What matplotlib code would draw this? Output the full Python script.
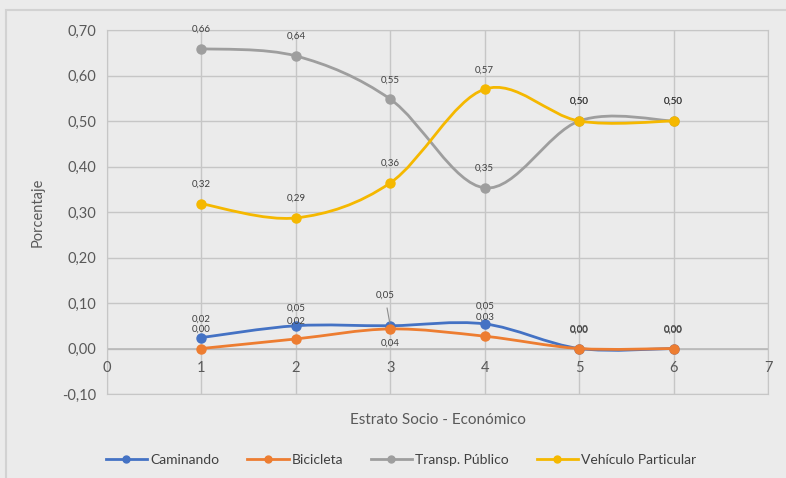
import matplotlib
matplotlib.use("Agg")
import matplotlib.pyplot as plt
from matplotlib.lines import Line2D
from matplotlib.patches import PathPatch, Rectangle
from matplotlib.path import Path

plt.rcParams["font.family"] = ["Lato", "DejaVu Sans"]

estratos = [1, 2, 3, 4, 5, 6]
caminando = [0.024, 0.050, 0.050, 0.054, 0.0, 0.0]
bicicleta = [0.0, 0.021, 0.043, 0.027, 0.0, 0.0]
transp_publico = [0.659, 0.643, 0.548, 0.353, 0.50, 0.50]
vehiculo = [0.318, 0.287, 0.364, 0.570, 0.50, 0.50]

series_names = ["Caminando", "Bicicleta", "Transp. Público", "Vehículo Particular"]
y_ticks = [-0.10, 0.0, 0.10, 0.20, 0.30, 0.40, 0.50, 0.60, 0.70]
x_ticks = [0, 1, 2, 3, 4, 5, 6, 7]

BG = "#ebebeb"
colors = ["#4472c4", "#ed7d31", "#9e9e9e", "#f5b800"]
# vertical label offsets in points (negative = below the marker)
label_dy = [
    [13, 13, 20, 13, 13, 13],
    [14, 13, -10, 14, 14, 14],
    [14, 14, 14, 14, 14, 14],
    [14, 14, 14, 14, 14, 14],
]


def fmt(v):
    return f"{v:.2f}".replace(".", ",")


def smooth_path(xs, ys):
    # Catmull-Rom segments turned into cubic Bezier curves (like Excel smoothing)
    pts = list(zip(xs, ys))
    verts = [pts[0]]
    codes = [Path.MOVETO]
    n = len(pts)
    for i in range(n - 1):
        p0 = pts[max(i - 1, 0)]
        p1 = pts[i]
        p2 = pts[i + 1]
        p3 = pts[min(i + 2, n - 1)]
        c1 = (p1[0] + (p2[0] - p0[0]) / 6, p1[1] + (p2[1] - p0[1]) / 6)
        c2 = (p2[0] - (p3[0] - p1[0]) / 6, p2[1] - (p3[1] - p1[1]) / 6)
        verts += [c1, c2, p2]
        codes += [Path.CURVE4] * 3
    return Path(verts, codes)


fig = plt.figure(figsize=(7.86, 4.78), dpi=100, facecolor=BG)
# outer chart frame
fig.patches.append(Rectangle((6 / 786, -0.1), 1.0, 1.1 - 10 / 478,
                             transform=fig.transFigure, fill=False,
                             edgecolor="#d2d2d2", linewidth=1.5))
ax = fig.add_axes([107 / 786, 84 / 478, 661 / 786, 364 / 478])
ax.set_facecolor(BG)

ax.set_xlim(0, 7)
ax.set_ylim(-0.10, 0.70)
ax.set_xticks(x_ticks)
ax.set_yticks(y_ticks)
ax.set_yticklabels([fmt(t) for t in y_ticks])
ax.set_xticklabels([])
ax.grid(True, color="#c6c6c6", linewidth=1.0)
ax.set_axisbelow(True)
for s in ax.spines.values():
    s.set_color("#c6c6c6")
ax.axhline(0, color="#b8b8b8", linewidth=1.2, zorder=1)
ax.tick_params(length=0, labelsize=10.5, colors="#595959", pad=8)

# x tick labels sit just under the zero line
for t in x_ticks:
    ax.annotate(str(t), (t, 0), xytext=(0, -14), textcoords="offset points",
                ha="center", va="center", fontsize=10.5, color="#595959")

ax.set_ylabel("Porcentaje", fontsize=10.5, color="#595959", labelpad=12)
ax.set_xlabel("Estrato Socio - Económico", fontsize=11, color="#595959",
              labelpad=6)

all_series = [caminando, bicicleta, transp_publico, vehiculo]
order = [2, 3, 0, 1]
for z, k in enumerate(order):
    vals = all_series[k]
    c = colors[k]
    ax.add_patch(PathPatch(smooth_path(estratos, vals), facecolor="none",
                           edgecolor=c, linewidth=2.0, zorder=3 + z))
    ax.plot(estratos, vals, linestyle="none", marker="o", markersize=6.5,
            color=c, zorder=3 + z)

for k, vals in enumerate(all_series):
    for i, (x, v) in enumerate(zip(estratos, vals)):
        if k == 0 and i == 2:
            ax.annotate(fmt(v), (x, v), xytext=(-4, 22), textcoords="offset points",
                        ha="center", va="center", fontsize=7, color="#404040",
                        arrowprops=dict(arrowstyle="-", color="#8c8c8c",
                                        linewidth=0.8, shrinkA=4, shrinkB=2),
                        zorder=10)
            continue
        ax.annotate(fmt(v), (x, v), xytext=(0, label_dy[k][i]),
                    textcoords="offset points", ha="center", va="center",
                    fontsize=7, color="#404040", zorder=10)

handles = [Line2D([0], [0], color=c, linewidth=2.0, marker="o", markersize=5)
           for c in colors]
fig.legend(handles, series_names, loc="center", bbox_to_anchor=(0.51, 0.037),
           ncol=4, frameon=False, fontsize=10, handlelength=3.0,
           columnspacing=2.0, handletextpad=0.2, labelcolor="#404040")

fig.savefig("out.png", dpi=100, facecolor=BG)
